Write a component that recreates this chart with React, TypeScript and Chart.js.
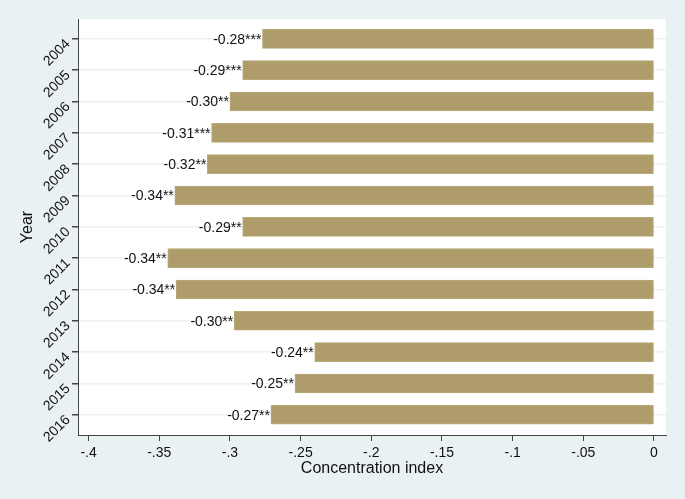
import React, { useEffect, useRef } from "react";
import { Chart, registerables } from "chart.js";

Chart.register(...registerables);

const years = ["2004", "2005", "2006", "2007", "2008", "2009", "2010", "2011", "2012", "2013", "2014", "2015", "2016"];
const concentrationIndex = [-0.277, -0.291, -0.300, -0.313, -0.316, -0.339, -0.291, -0.344, -0.338, -0.297, -0.240, -0.254, -0.271];
const barLabels = ["-0.28***", "-0.29***", "-0.30**", "-0.31***", "-0.32**", "-0.34**", "-0.29**", "-0.34**", "-0.34**", "-0.30**", "-0.24**", "-0.25**", "-0.27**"];
const xTicks = [-0.4, -0.35, -0.3, -0.25, -0.2, -0.15, -0.1, -0.05, 0];
const xTickLabels = ["-.4", "-.35", "-.3", "-.25", "-.2", "-.15", "-.1", "-.05", "0"];
const xTitle = "Concentration index";
const yTitle = "Year";

const FONT = "'Liberation Sans', Arial, sans-serif";
const BG = "#E9F1F3";

export default function App() {
  const ref = useRef<HTMLCanvasElement | null>(null);

  useEffect(() => {
    if (!ref.current) return;

    const plotBg = {
      id: "plotBg",
      beforeDraw(chart: any) {
        const { ctx, chartArea } = chart;
        ctx.save();
        ctx.fillStyle = "#ffffff";
        ctx.fillRect(chartArea.left, chartArea.top, chartArea.right - chartArea.left, chartArea.bottom - chartArea.top);
        ctx.restore();
      },
    };

    const barText = {
      id: "barText",
      afterDatasetsDraw(chart: any) {
        const { ctx } = chart;
        const meta = chart.getDatasetMeta(0);
        ctx.save();
        ctx.font = `14px ${FONT}`;
        ctx.fillStyle = "#111111";
        ctx.textAlign = "right";
        ctx.textBaseline = "middle";
        meta.data.forEach((el: any, i: number) => {
          const left = Math.min(el.x, el.base);
          ctx.fillText(barLabels[i], left - 1, el.y + 1);
        });
        ctx.restore();
      },
    };

    const chart = new Chart(ref.current, {
      type: "bar",
      data: {
        datasets: [
          {
            data: concentrationIndex.map((v, i) => ({ x: v, y: i })),
            backgroundColor: "#AE9D6A",
            borderColor: "#B9AA7A",
            borderWidth: 1,
            borderSkipped: false,
            barThickness: 19,
          },
        ],
      },
      options: {
        indexAxis: "y",
        animation: false,
        responsive: false,
        layout: { padding: { top: 19, right: 19, left: 0, bottom: 0 } },
        plugins: { legend: { display: false }, tooltip: { enabled: false } },
        scales: {
          x: {
            type: "linear",
            position: "bottom",
            min: -0.4075,
            max: 0.0085,
            afterBuildTicks: (s: any) => {
              s.ticks = xTicks.map((v) => ({ value: v }));
            },
            afterFit: (s: any) => {
              s.height = 64;
            },
            ticks: {
              callback: (_v: any, i: number) => xTickLabels[i],
              font: { family: FONT, size: 14 },
              color: "#111111",
              padding: 4,
              maxRotation: 0,
              minRotation: 0,
            },
            grid: { drawOnChartArea: false, tickLength: 6, tickColor: "#444444", color: "#444444" },
            border: { display: true, color: "#444444", width: 1 },
            title: {
              display: true,
              text: xTitle,
              font: { family: FONT, size: 16 },
              color: "#111111",
              padding: { top: 0, bottom: 21 },
            },
          },
          y: {
            type: "linear",
            position: "left",
            reverse: true,
            offset: false,
            min: -0.632,
            max: 12.645,
            afterBuildTicks: (s: any) => {
              s.ticks = years.map((_, i) => ({ value: i }));
            },
            afterFit: (s: any) => {
              s.width = 78;
            },
            ticks: {
              callback: (v: any) => years[Math.round(Number(v))],
              font: { family: FONT, size: 14 },
              color: "#111111",
              padding: 4,
              labelOffset: 3,
              minRotation: 45,
              maxRotation: 45,
            },
            grid: { offset: false, drawOnChartArea: true, tickLength: 6, tickColor: "#444444", color: "#EAF2F3", lineWidth: 1.5 },
            border: { display: true, color: "#444444", width: 1 },
            title: {
              display: true,
              text: yTitle,
              font: { family: FONT, size: 16 },
              color: "#111111",
              padding: { top: 18, bottom: 0 },
            },
          },
        },
      },
      plugins: [plotBg, barText],
    } as any);

    return () => chart.destroy();
  }, []);

  return (
    <div style={{ position: "fixed", left: 0, top: 0, width: 685, height: 499, background: BG }}>
      <canvas ref={ref} width={685} height={499} style={{ display: "block" }} />
    </div>
  );
}
